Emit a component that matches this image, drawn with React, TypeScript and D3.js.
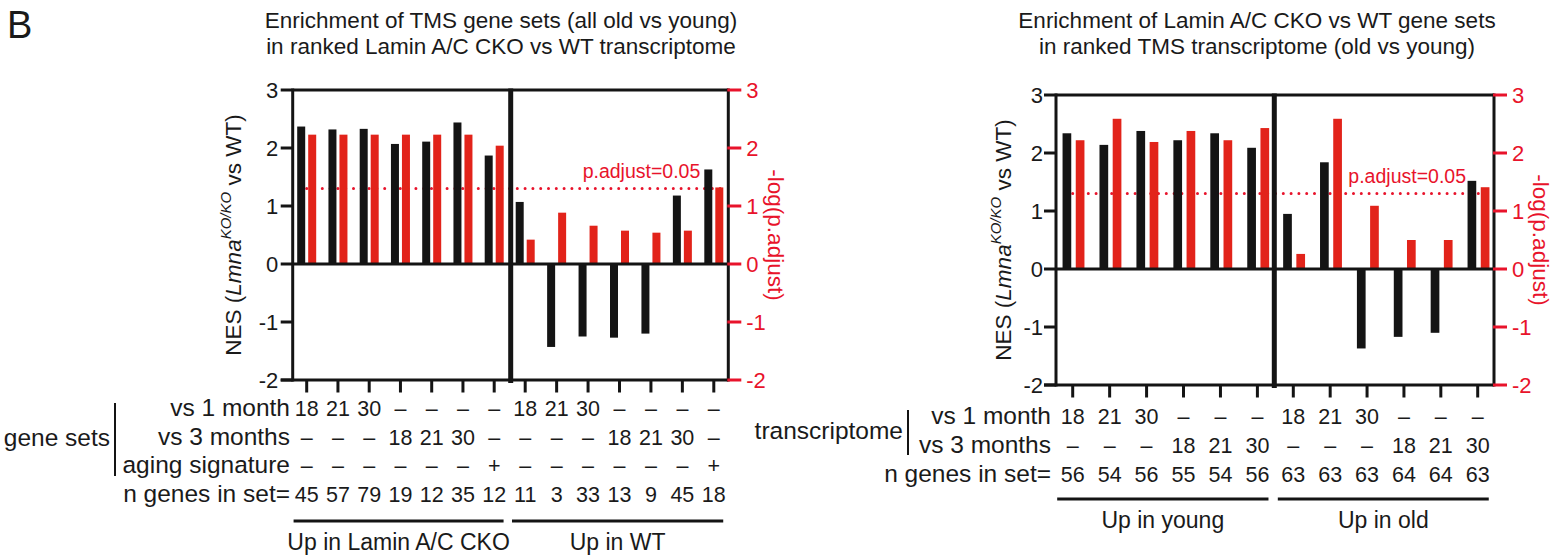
import React from "react";
import * as d3 from "d3";

// ---------------- data ----------------
const leftTitle = [
  "Enrichment of TMS gene sets (all old vs young)",
  "in ranked Lamin A/C CKO vs WT transcriptome",
];
const rightTitle = [
  "Enrichment of Lamin A/C CKO vs WT gene sets",
  "in ranked TMS transcriptome (old vs young)",
];

const leftNES = [2.37, 2.32, 2.33, 2.07, 2.11, 2.44, 1.87, 1.07, -1.43, -1.25, -1.27, -1.2, 1.18, 1.63];
const leftLogP = [2.23, 2.23, 2.23, 2.23, 2.23, 2.23, 2.04, 0.42, 0.885, 0.66, 0.575, 0.54, 0.575, 1.32];
const leftVs1 = ["18", "21", "30", "–", "–", "–", "–", "18", "21", "30", "–", "–", "–", "–"];
const leftVs3 = ["–", "–", "–", "18", "21", "30", "–", "–", "–", "–", "18", "21", "30", "–"];
const leftAging = ["–", "–", "–", "–", "–", "–", "+", "–", "–", "–", "–", "–", "–", "+"];
const leftN = ["45", "57", "79", "19", "12", "35", "12", "11", "3", "33", "13", "9", "45", "18"];
const leftGroups = ["Up in Lamin A/C CKO", "Up in WT"];
const leftRowLabels = ["vs 1 month", "vs 3 months", "aging signature", "n genes in set="];

const rightNES = [2.34, 2.14, 2.38, 2.22, 2.34, 2.09, 0.95, 1.84, -1.37, -1.17, -1.1, 1.52];
const rightLogP = [2.22, 2.59, 2.19, 2.38, 2.22, 2.43, 0.26, 2.59, 1.09, 0.5, 0.5, 1.41];
const rightVs1 = ["18", "21", "30", "–", "–", "–", "18", "21", "30", "–", "–", "–"];
const rightVs3 = ["–", "–", "–", "18", "21", "30", "–", "–", "–", "18", "21", "30"];
const rightN = ["56", "54", "56", "55", "54", "56", "63", "63", "63", "64", "64", "63"];
const rightGroups = ["Up in young", "Up in old"];
const rightRowLabels = ["vs 1 month", "vs 3 months", "n genes in set="];

const yTicks = [-2, -1, 0, 1, 2, 3];
const yDomain = [-2, 3];
const pThreshold = 0.05;
const thresholdLabel = "p.adjust=0.05";

// ---------------- style ----------------
const FONT = "'Liberation Sans', Arial, Helvetica, sans-serif";
const BLACK = "#141414";
const TEXT = "#1a1a1a";
const BAR_RED = "#e2231a";
const RED = "#e8132b";
const LABEL_FS = 24.5;
const VALUE_FS = 21.5;

type Layout = {
  axisL: number;
  divider: number;
  axisR: number;
  top: number;
  bottom: number;
  halfL: [number, number];
  halfR: [number, number];
  barW: number;
  gap: number;
  barShift: number;
  titleX: number;
  nesX: number;
  logX: number;
  tickLabelGap: number;
  rowYs: number[];
  rowLabelX: number;
  underlineY: number;
  groupLabelY: number;
  sideLabel: string;
  sideLabelX: number;
  sideLabelY: number;
  sideBarX: number;
  sideBarY: [number, number];
};

type PanelProps = {
  layout: Layout;
  title: string[];
  nes: number[];
  logp: number[];
  rows: string[][];
  rowLabels: string[];
  groups: string[];
};

function Panel({ layout: L, title, nes, logp, rows, rowLabels, groups }: PanelProps) {
  const n = nes.length;
  const half = n / 2;
  const y = d3.scaleLinear().domain(yDomain).range([L.bottom, L.top]);
  const xl = d3.scalePoint<number>().domain(d3.range(half)).range(L.halfL);
  const xr = d3.scalePoint<number>().domain(d3.range(half, n)).range(L.halfR);
  const cx = (i: number) => (i < half ? (xl(i) as number) : (xr(i) as number));
  const y0 = y(0);
  const thr = -Math.log10(pThreshold);
  const lw = 3;

  const pitchL = xl.step();
  const pitchR = xr.step();
  const underlines = [
    [xl(0)! - 0.42 * pitchL, xl(half - 1)! + 0.3 * pitchL],
    [xr(half)! - 0.42 * pitchR, xr(n - 1)! + 0.3 * pitchR],
  ];

  const barRect = (v: number) => ({
    y: Math.min(y(v), y0),
    height: Math.abs(y(v) - y0),
  });

  return (
    <g>
      {title.map((t, i) => (
        <text key={i} x={L.titleX} y={28 + i * 26} textAnchor="middle" fontSize={22.5} fill={TEXT}>
          {t}
        </text>
      ))}

      <line
        x1={cx(0)}
        x2={L.axisR - 4}
        y1={y(thr)}
        y2={y(thr)}
        stroke={RED}
        strokeWidth={3}
        strokeLinecap="round"
        strokeDasharray="0 7.8"
      />

      {nes.map((v, i) => {
        const c = cx(i) + L.barShift;
        const r = barRect(v);
        return <rect key={"b" + i} x={c - L.gap / 2 - L.barW} width={L.barW} y={r.y} height={r.height} fill={BLACK} />;
      })}
      {logp.map((v, i) => {
        const c = cx(i) + L.barShift;
        const r = barRect(v);
        return <rect key={"r" + i} x={c + L.gap / 2} width={L.barW} y={r.y} height={r.height} fill={BAR_RED} />;
      })}

      <text x={L.axisR - 28} y={y(thr) - 11} textAnchor="end" fontSize={19.5} fill={RED}>
        {thresholdLabel}
      </text>

      <line x1={L.axisL} x2={L.axisR} y1={L.top} y2={L.top} stroke={BLACK} strokeWidth={lw} />
      <line x1={L.axisL} x2={L.axisR} y1={y0} y2={y0} stroke={BLACK} strokeWidth={lw} />
      <line x1={L.axisL - 12} x2={L.axisR} y1={L.bottom} y2={L.bottom} stroke={BLACK} strokeWidth={lw} />
      <line x1={L.axisL} x2={L.axisL} y1={L.top - 1.5} y2={L.bottom + 1.5} stroke={BLACK} strokeWidth={lw} />
      <line x1={L.axisR} x2={L.axisR} y1={L.top - 1.5} y2={L.bottom + 1.5} stroke={BLACK} strokeWidth={lw} />
      <line x1={L.divider} x2={L.divider} y1={L.top - 1.5} y2={L.bottom + 3} stroke={BLACK} strokeWidth={5} />

      {yTicks.map((t) => (
        <g key={"lt" + t}>
          <line x1={L.axisL - 12} x2={L.axisL} y1={y(t)} y2={y(t)} stroke={BLACK} strokeWidth={lw} />
          <text x={L.axisL - L.tickLabelGap} y={y(t)} dy="0.36em" textAnchor="end" fontSize={22} fill={TEXT}>
            {t}
          </text>
        </g>
      ))}
      {yTicks.map((t) => (
        <g key={"rt" + t}>
          <line x1={L.axisR - 1} x2={L.axisR + 13} y1={y(t)} y2={y(t)} stroke={RED} strokeWidth={lw} />
          <text x={L.axisR + 18} y={y(t)} dy="0.36em" textAnchor="start" fontSize={22} fill={RED}>
            {t}
          </text>
        </g>
      ))}
      {d3.range(n).map((i) => (
        <line key={"bt" + i} x1={cx(i)} x2={cx(i)} y1={L.bottom} y2={L.bottom + 12.5} stroke={BLACK} strokeWidth={lw} />
      ))}

      <text
        transform={`translate(${L.nesX},${(L.top + L.bottom) / 2}) rotate(-90)`}
        textAnchor="middle"
        dominantBaseline="central"
        fontSize={22.5}
        fill={TEXT}
      >
        {"NES ("}
        <tspan fontStyle="italic">Lmna</tspan>
        <tspan fontStyle="italic" fontSize={15} dy={-8}>
          KO/KO
        </tspan>
        <tspan dy={8}>{" vs WT)"}</tspan>
      </text>
      <text
        transform={`translate(${L.logX},${(L.top + L.bottom) / 2}) rotate(90)`}
        textAnchor="middle"
        dominantBaseline="central"
        fontSize={22.5}
        fill={RED}
      >
        -log(p.adjust)
      </text>

      {rows.map((vals, r) => (
        <g key={"row" + r}>
          <text x={L.rowLabelX} y={L.rowYs[r]} textAnchor="end" fontSize={LABEL_FS} fill={TEXT}>
            {rowLabels[r]}
          </text>
          {vals.map((v, i) => (
            <text key={i} x={cx(i)} y={L.rowYs[r]} textAnchor="middle" fontSize={VALUE_FS} fill={TEXT}>
              {v}
            </text>
          ))}
        </g>
      ))}
      <text x={L.sideLabelX} y={L.sideLabelY} textAnchor="end" fontSize={LABEL_FS} fill={TEXT}>
        {L.sideLabel}
      </text>
      <line x1={L.sideBarX} x2={L.sideBarX} y1={L.sideBarY[0]} y2={L.sideBarY[1]} stroke={BLACK} strokeWidth={2} />

      {underlines.map(([a, b], k) => (
        <g key={"ul" + k}>
          <line x1={a} x2={b} y1={L.underlineY} y2={L.underlineY} stroke={BLACK} strokeWidth={3} />
          <text x={(a + b) / 2} y={L.groupLabelY} textAnchor="middle" fontSize={23} fill={TEXT}>
            {groups[k]}
          </text>
        </g>
      ))}
    </g>
  );
}

const leftLayout: Layout = {
  axisL: 292.7,
  divider: 510.7,
  axisR: 728.3,
  top: 90,
  bottom: 380,
  halfL: [306.7, 494.2],
  halfR: [525.2, 713.8],
  barW: 8,
  gap: 3,
  barShift: 0,
  titleX: 501,
  nesX: 233,
  logX: 775,
  tickLabelGap: 14.5,
  rowYs: [416, 445, 473, 502],
  rowLabelX: 290,
  underlineY: 521,
  groupLabelY: 550,
  sideLabel: "gene sets",
  sideLabelX: 110,
  sideLabelY: 446,
  sideBarX: 115,
  sideBarY: [403, 476],
};

const rightLayout: Layout = {
  axisL: 1056,
  divider: 1274.3,
  axisR: 1494,
  top: 95,
  bottom: 385,
  halfL: [1072.7, 1257.4],
  halfR: [1293.3, 1477.7],
  barW: 8.7,
  gap: 4.5,
  barShift: 0.8,
  titleX: 1257,
  nesX: 1003,
  logX: 1540,
  tickLabelGap: 13,
  rowYs: [424, 453, 482],
  rowLabelX: 1051,
  underlineY: 499,
  groupLabelY: 528,
  sideLabel: "transcriptome",
  sideLabelX: 903,
  sideLabelY: 439,
  sideBarX: 908,
  sideBarY: [410, 455],
};

export default function App() {
  return (
    <svg
      width={1552}
      height={557}
      viewBox="0 0 1552 557"
      style={{ position: "absolute", left: 0, top: 0, display: "block", background: "#fff" }}
      fontFamily={FONT}
    >
      <rect x={0} y={0} width={1552} height={557} fill="#fff" />
      <text x={7} y={38} fontSize={38} fill={TEXT}>
        B
      </text>
      <Panel
        layout={leftLayout}
        title={leftTitle}
        nes={leftNES}
        logp={leftLogP}
        rows={[leftVs1, leftVs3, leftAging, leftN]}
        rowLabels={leftRowLabels}
        groups={leftGroups}
      />
      <Panel
        layout={rightLayout}
        title={rightTitle}
        nes={rightNES}
        logp={rightLogP}
        rows={[rightVs1, rightVs3, rightN]}
        rowLabels={rightRowLabels}
        groups={rightGroups}
      />
    </svg>
  );
}
